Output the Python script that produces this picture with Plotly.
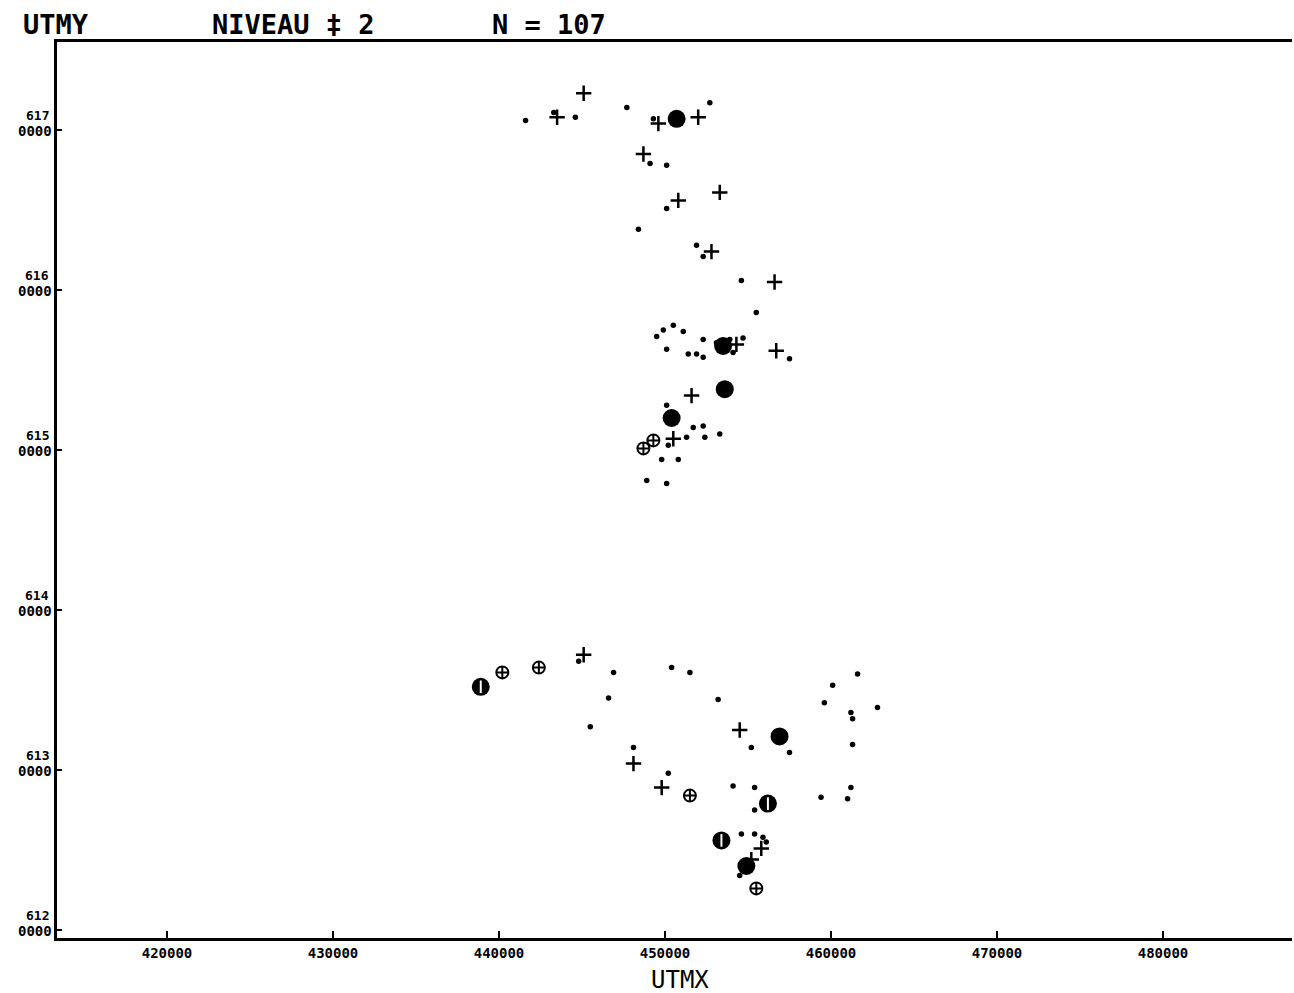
import plotly.graph_objects as go

# ---- data (UTM metres) ----
dots_x = [441600, 443300, 444600, 447700, 449300, 452700, 449100, 450100, 450100, 448400,
          451900, 452300, 454600, 455500, 449900, 450500, 451100, 449500, 452300, 453100,
          453900, 454700, 454100, 457500, 450100, 451400, 451900, 452300, 450100, 451700,
          452300, 451300, 452400, 453300, 450200, 449800, 450800, 448900, 450100,
          444800, 446900, 446600, 445500, 448100, 450200, 450400, 451500, 453200, 461600,
          460100, 459600, 461200, 461300, 462800, 455200, 457500, 461300, 454100, 455400,
          461200, 459400, 461000, 455400, 454600, 455400, 455900, 456100, 454500]
dots_y = [6170600, 6171100, 6170800, 6171400, 6170700, 6171700, 6167900, 6167800, 6165100, 6163800,
          6162800, 6162100, 6160600, 6158600, 6157500, 6157800, 6157400, 6157100, 6156900, 6156700,
          6156900, 6157000, 6156100, 6155700, 6156300, 6156000, 6156000, 6155800, 6152800, 6151400,
          6151500, 6150800, 6150800, 6151000, 6150300, 6149400, 6149400, 6148100, 6147900,
          6136800, 6136100, 6134500, 6132700, 6131400, 6129800, 6136400, 6136100, 6134400, 6136000,
          6135300, 6134200, 6133600, 6133200, 6133900, 6131400, 6131100, 6131600, 6129000, 6128900,
          6128900, 6128300, 6128200, 6127500, 6126000, 6126000, 6125800, 6125500, 6123400]

plus_x = [445100, 443500, 449600, 452000, 448700, 450800, 453300, 452800, 456600, 454300,
          456700, 451600, 450500, 445100, 448100, 449800, 454500, 455800, 455200]
plus_y = [6172300, 6170800, 6170400, 6170800, 6168500, 6165600, 6166100, 6162400, 6160500, 6156600,
          6156200, 6153400, 6150700, 6137200, 6130400, 6128900, 6132500, 6125100, 6124400]

big_x = [450700, 453500, 453600, 450400, 456900, 454900]
big_y = [6170700, 6156500, 6153800, 6152000, 6132100, 6124000]

ocross_x = [449300, 448700, 440200, 442400, 451500, 455500]
ocross_y = [6150600, 6150100, 6136100, 6136400, 6128400, 6122600]

barred_x = [438900, 456200, 453400]
barred_y = [6135200, 6127900, 6125600]

x_ticks = [420000, 430000, 440000, 450000, 460000, 470000, 480000]
x_labels = ["420000", "430000", "440000", "450000", "460000", "470000", "480000"]
y_ticks = [6120000, 6130000, 6140000, 6150000, 6160000, 6170000]
y_top = ["612", "613", "614", "615", "616", "617"]
y_bot = ["0000", "0000", "0000", "0000", "0000", "0000"]

MONO = "DejaVu Sans Mono"

fig = go.Figure()
fig.add_trace(go.Scatter(x=dots_x, y=dots_y, mode="markers",
                         marker=dict(symbol="circle", size=5.5, color="black"), hoverinfo="skip"))
fig.add_trace(go.Scatter(x=plus_x, y=plus_y, mode="markers",
                         marker=dict(symbol="cross-thin", size=11, color="black",
                                     line=dict(color="black", width=2.5)), hoverinfo="skip"))
fig.add_trace(go.Scatter(x=big_x, y=big_y, mode="markers",
                         marker=dict(symbol="circle", size=18, color="black"), hoverinfo="skip"))
fig.add_trace(go.Scatter(x=ocross_x, y=ocross_y, mode="markers",
                         marker=dict(symbol="circle-cross-open", size=12, color="black",
                                     line=dict(color="black", width=2)), hoverinfo="skip"))
fig.add_trace(go.Scatter(x=barred_x, y=barred_y, mode="markers",
                         marker=dict(symbol="circle", size=18, color="black"), hoverinfo="skip"))
fig.add_trace(go.Scatter(x=barred_x, y=barred_y, mode="markers",
                         marker=dict(symbol="line-ns", size=9, color="white",
                                     line=dict(color="white", width=2)), hoverinfo="skip"))

annotations = []
for v, t, b in zip(y_ticks, y_top, y_bot):
    annotations.append(dict(x=0, xref="paper", y=v, yref="y", text="<b>" + t + "</b>",
                            showarrow=False, xanchor="right", yanchor="middle", xshift=-6, yshift=15,
                            font=dict(family=MONO, size=13, color="black")))
    annotations.append(dict(x=0, xref="paper", y=v, yref="y", text="<b>" + b + "</b>",
                            showarrow=False, xanchor="right", yanchor="middle", xshift=-3, yshift=-1,
                            font=dict(family=MONO, size=14, color="black")))

title_font = dict(family=MONO, size=27, color="black")
annotations += [
    dict(x=-0.029, xref="paper", y=1.019, yref="paper", text="<b>UTMY</b>", showarrow=False,
         xanchor="left", yanchor="middle", font=title_font),
    dict(x=0.124, xref="paper", y=1.019, yref="paper", text="<b>NIVEAU ‡ 2</b>", showarrow=False,
         xanchor="left", yanchor="middle", font=title_font),
    dict(x=0.351, xref="paper", y=1.019, yref="paper", text="<b>N = 107</b>", showarrow=False,
         xanchor="left", yanchor="middle", font=title_font),
    dict(x=0.5045, xref="paper", y=-0.0285, yref="paper", text="UTMX", showarrow=False,
         xanchor="center", yanchor="top", font=dict(family=MONO, size=24, color="black")),
]

fig.update_layout(
    width=1294, height=993,
    margin=dict(l=57, r=2, t=42, b=55),
    paper_bgcolor="white", plot_bgcolor="white",
    showlegend=False,
    annotations=annotations,
    xaxis=dict(range=[413373, 487771], tickvals=x_ticks, ticktext=["<b>" + s + "</b>" for s in x_labels],
               ticks="inside", ticklen=7, tickwidth=1.5, tickcolor="black",
               tickfont=dict(family=MONO, size=14, color="black"),
               showline=True, linecolor="black", linewidth=2.5, mirror=True,
               showgrid=False, zeroline=False),
    yaxis=dict(range=[6119500, 6175500], tickvals=y_ticks, showticklabels=False,
               ticks="inside", ticklen=5, tickwidth=1.5, tickcolor="black",
               showline=True, linecolor="black", linewidth=2.5, mirror=False,
               showgrid=False, zeroline=False),
)

fig.write_html("out.html", config={"displayModeBar": False},
               post_script="document.body.style.margin='0';document.body.style.overflow='hidden';")
